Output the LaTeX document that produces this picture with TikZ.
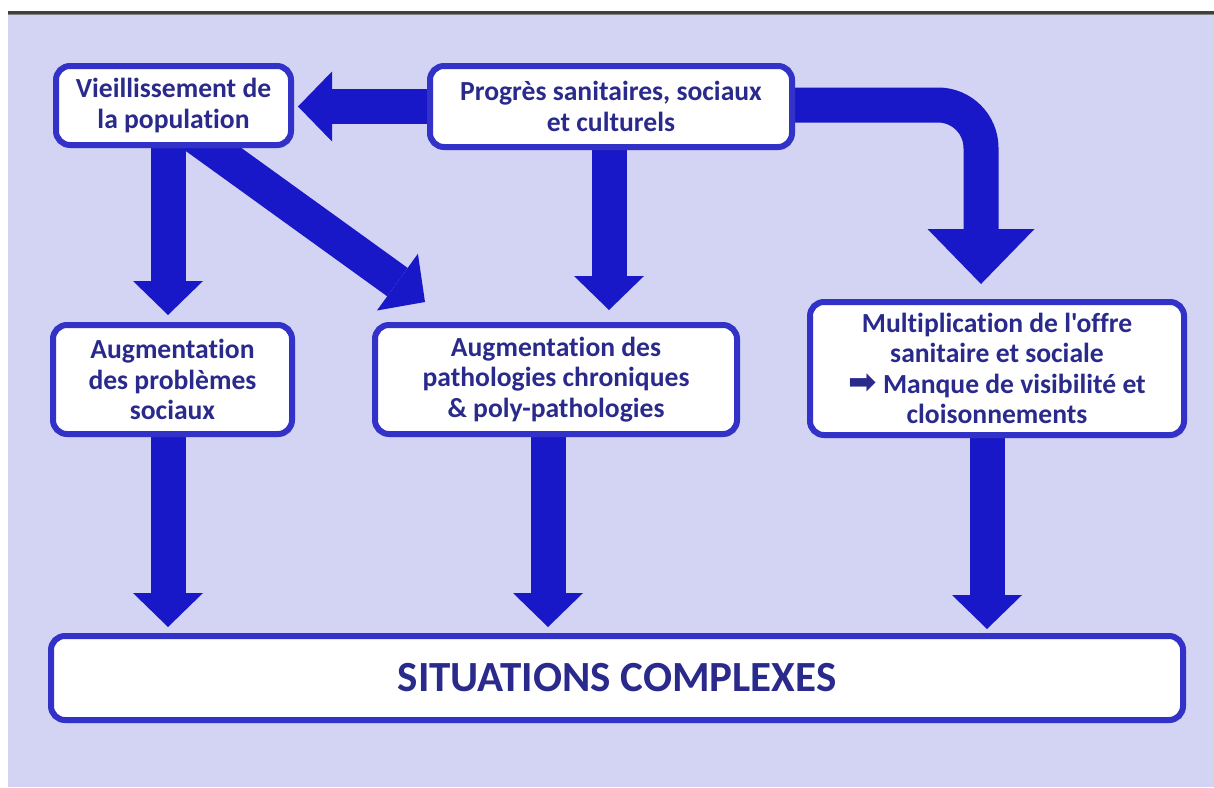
\documentclass[tikz,border=0pt]{standalone}
\usepackage{fontspec}
\setmainfont{Carlito}[Ligatures={TeXOff,CommonOff}]
\newfontfamily\dejavu{DejaVu Sans}
\usetikzlibrary{arrows.meta,calc,shadows}
\pgfdeclarelayer{back}
\pgfdeclarelayer{bg}
\pgfsetlayers{back,bg,main}
\definecolor{bgcol}{RGB}{211,211,243}
\definecolor{boxborder}{RGB}{50,50,200}
\definecolor{arrcol}{RGB}{24,24,200}
\definecolor{txtcol}{RGB}{42,42,140}
\definecolor{topline}{RGB}{64,64,64}
\begin{document}
\begin{tikzpicture}[x=1pt,y=1pt,
  box/.style={draw=boxborder, line width=6pt, fill=white, rounded corners=14pt,
    inner sep=0pt, align=center, text=txtcol,
    font=\fontsize{27.6}{30.5}\selectfont\bfseries,
    drop shadow={opacity=0.25, shadow xshift=2pt, shadow yshift=-3pt}},
  fat/.style={draw=arrcol, line width=35pt,
    -{Triangle[width=70pt,length=34pt,line width=0pt]}},
  bigfat/.style={draw=arrcol, line width=35pt, rounded corners=43pt,
    -{Triangle[width=107pt,length=55pt,line width=0pt]}}
  ]
\useasboundingbox (0,0) rectangle (1214,-787);
\begin{pgfonlayer}{back}
  \fill[white] (0,0) rectangle (1214,-787);
  \fill[bgcol] (8,-15) rectangle (1214,-787);
  \fill[topline] (8,-11) rectangle (1214,-14);
  \fill[gray] (8,-14) rectangle (1214,-15);
\end{pgfonlayer}

\node[box, minimum width=235pt, minimum height=79pt] (A) at (173.5,-105.5)
  {Vieillissement de\\la population};
\node[box, minimum width=362pt, minimum height=81pt] (B) at (611,-106.5)
  {Progrès sanitaires, sociaux\\et culturels};
\node[box, minimum width=374pt, minimum height=133pt] (C) at (997,-368.5)
  {Multiplication de l'offre\\sanitaire et sociale\\{\dejavu\fontsize{34}{30}\selectfont ➡} Manque de visibilité et\\cloisonnements};
\node[box, minimum width=239pt, minimum height=109pt] (D) at (172.5,-379.5)
  {Augmentation\\des problèmes\\sociaux};
\node[box, minimum width=362pt, minimum height=109pt] (E) at (556,-379.5)
  {Augmentation des\\pathologies chroniques\\\& poly-pathologies};
\node[box, minimum width=1132pt, minimum height=84pt,
  font=\fontsize{43}{50}\selectfont\bfseries] (F) at (617,-678)
  {SITUATIONS COMPLEXES};

\begin{pgfonlayer}{bg}
  \draw[fat] (B.west) -- ($(B.west -| A.east)+(4,0)$);
  \draw[fat] ($(A.south)+(-5.5,0)$) -- ($(D.north)+(-4.5,7)$);
  \draw[fat] ($(A.south)+(20,13)$) -- ($(E.north west)+(53,20)$);
  \draw[fat] ($(B.south)+(-2,0)$) -- ($(E.north)+(53,12)$);
  \draw[bigfat] ($(B.east)+(0,1.5)$) -- ($(B.east -| C.north)+(-16,1.5)$) -- ($(C.north)+(-16,15)$);
  \draw[fat] ($(D.south)+(-4.5,0)$) -- ($(F.north -| D.south)+(-4.5,6)$);
  \draw[fat] ($(E.south)+(-8,0)$) -- ($(F.north -| E.south)+(-8,6)$);
  \draw[fat] ($(C.south)+(-10,0)$) -- ($(F.north -| C.south)+(-10,4)$);
\end{pgfonlayer}
\end{tikzpicture}
\end{document}
